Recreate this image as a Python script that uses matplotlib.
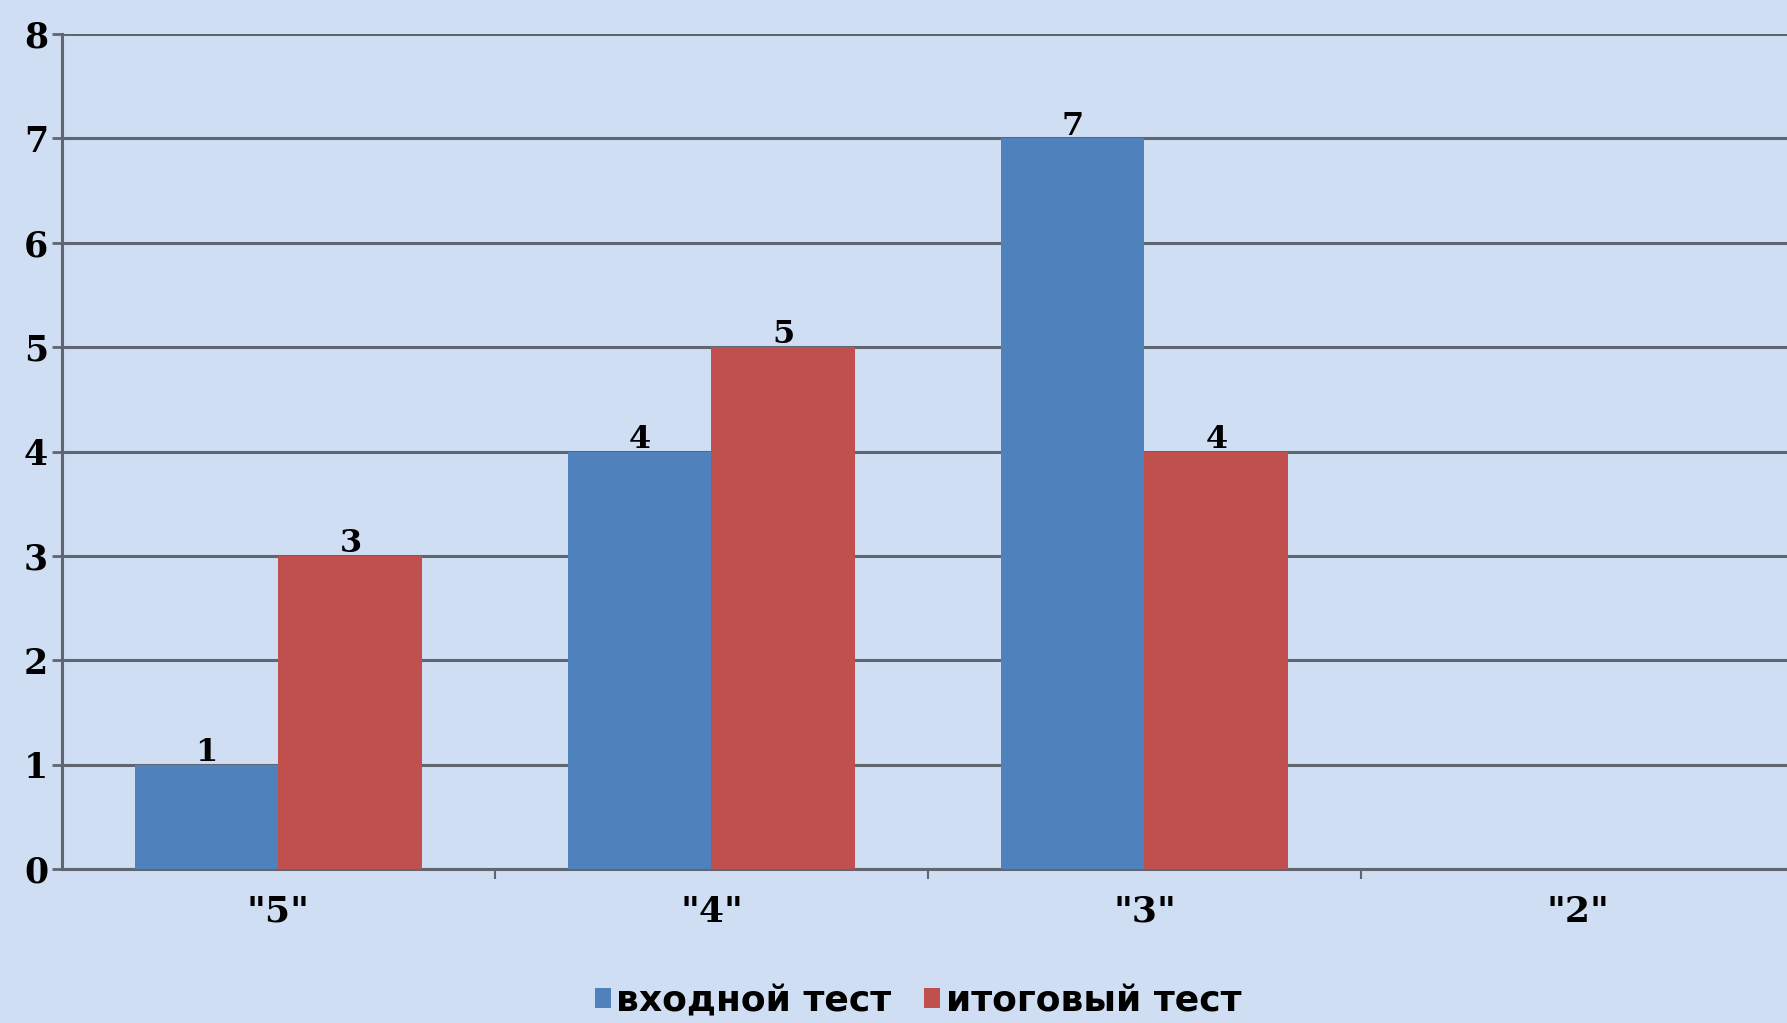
import matplotlib
matplotlib.use("Agg")
import matplotlib.pyplot as plt
import numpy as np
from matplotlib.patches import Patch

categories = ['"5"', '"4"', '"3"', '"2"']
series_names = ["входной тест", "итоговый тест"]
entry_test = [1, 4, 7, 0]
final_test = [3, 5, 4, 0]
y_ticks = [0, 1, 2, 3, 4, 5, 6, 7, 8]

colors = ["#4f81bd", "#c0504d"]
bg = "#cfdef3"
grid_c = "#5f6670"

fig = plt.figure(figsize=(17.87, 10.23), dpi=100)
fig.patch.set_facecolor(bg)
ax = fig.add_axes([62/1787, 154/1023, (1794-62)/1787, (869-34)/1023])
ax.set_facecolor(bg)

x = np.arange(len(categories))
w = 0.332
serif = ["DejaVu Serif"]
for i, (vals, c) in enumerate(zip([entry_test, final_test], colors)):
    pos = x + (i - 0.5) * w
    ax.bar(pos, vals, width=w, color=c, zorder=3, linewidth=0)
    for xp, v in zip(pos, vals):
        if v > 0:
            ax.text(xp, v - 0.03, str(v), ha="center", va="bottom", fontsize=23,
                    fontweight="bold", family=serif, color="black", zorder=4)

ax.set_xlim(-0.5, 3.5)
ax.set_ylim(0, 8)
ax.set_yticks(y_ticks)
ax.set_yticklabels([str(t) for t in y_ticks], fontsize=25, fontweight="bold", family=serif)
ax.yaxis.grid(True, color=grid_c, linewidth=2.2, zorder=1)
ax.set_axisbelow(True)
ax.set_xticks([0.5, 1.5, 2.5])
ax.set_xticklabels([])
ax.tick_params(axis="x", length=7, width=1.5, color=grid_c, direction="out")
ax.tick_params(axis="y", length=7, width=2, color=grid_c, pad=3)

for xi, cat in zip(x, categories):
    ax.text(xi, -0.41, cat, ha="center", va="center", fontsize=26, fontweight="bold",
            family=serif, clip_on=False)

for s in ["top", "right"]:
    ax.spines[s].set_visible(False)
ax.spines["left"].set_color(grid_c)
ax.spines["left"].set_linewidth(2.2)
ax.spines["bottom"].set_color(grid_c)
ax.spines["bottom"].set_linewidth(2.2)

handles = [Patch(facecolor=c, label=n) for c, n in zip(colors, series_names)]
fig.legend(handles=handles, loc="center", bbox_to_anchor=(918/1787, 1 - 1001/1023),
           ncol=2, frameon=False, prop={"family": "DejaVu Sans", "weight": "bold", "size": 26},
           handlelength=0.45, handleheight=0.45, handletextpad=0.15, columnspacing=0.9)

fig.savefig("out.png", dpi=100, facecolor=bg)
